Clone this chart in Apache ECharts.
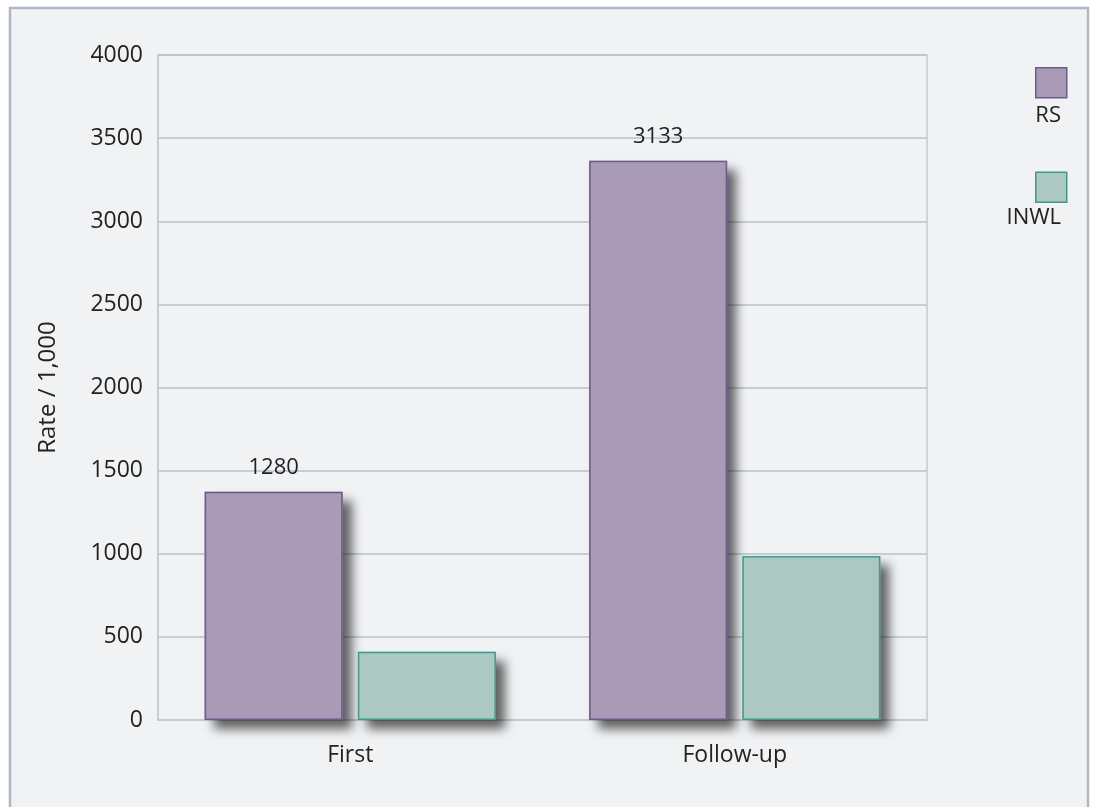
<!DOCTYPE html>
<html>
<head>
<meta charset="utf-8">
<script src="https://cdn.jsdelivr.net/npm/echarts@6/dist/echarts.min.js"></script>
<style>
html,body{margin:0;padding:0;background:#ffffff;}
#chart{width:1096px;height:807px;}
</style>
</head>
<body>
<div id="chart"></div>
<script>
var categories = ['First', 'Follow-up'];
var seriesNames = ['RS', 'INWL'];
var rsValues = [1373, 3364];
var inwlValues = [411, 986];
var rsLabels = ['1280', '3133'];
var yTicks = { min: 0, max: 4000, interval: 500 };

var FONT = '"Open Sans", "Noto Sans", sans-serif';
var chart = echarts.init(document.getElementById('chart'), null, { renderer: 'canvas' });

var shadow = { shadowBlur: 10, shadowOffsetX: 9, shadowOffsetY: 9, shadowColor: 'rgba(0,0,0,0.6)' };

var option = {
  animation: false,
  backgroundColor: '#ffffff',
  graphic: [
    { type: 'rect', z: -100, silent: true,
      shape: { x: 10, y: 8, width: 1078, height: 830 },
      style: { fill: '#f1f2f4', stroke: '#aeb8c4', lineWidth: 2.5 } },
    { type: 'text', silent: true,
      style: { x: 1061, y: 116, text: seriesNames[0], fill: '#222222', font: '22px ' + FONT, textAlign: 'right', textVerticalAlign: 'middle' } },
    { type: 'text', silent: true,
      style: { x: 1061, y: 218, text: seriesNames[1], fill: '#222222', font: '22px ' + FONT, textAlign: 'right', textVerticalAlign: 'middle' } }
  ],
  legend: {
    orient: 'vertical',
    left: 1030,
    top: 62,
    itemWidth: 31,
    itemHeight: 30,
    itemGap: 73,
    icon: 'rect',
    data: seriesNames,
    formatter: function () { return ''; },
    textStyle: { fontSize: 1 },
    itemStyle: { shadowBlur: 0, shadowOffsetX: 0, shadowOffsetY: 0, shadowColor: 'transparent', borderWidth: 1.5 },
    selectedMode: false
  },
  grid: {
    left: 158, top: 55, width: 769, height: 665,
    show: true, borderColor: '#c3cad3', borderWidth: 1.5, backgroundColor: 'transparent'
  },
  xAxis: [
    {
      type: 'category',
      data: categories,
      axisLine: { show: true, lineStyle: { color: '#c3cad3', width: 1.5 } },
      axisTick: { show: false },
      axisLabel: { color: '#222222', fontFamily: FONT, fontSize: 23, margin: 24 },
      splitLine: { show: false }
    },
    {
      type: 'category',
      data: categories,
      position: 'bottom',
      show: false
    }
  ],
  yAxis: {
    type: 'value',
    min: yTicks.min, max: yTicks.max, interval: yTicks.interval,
    name: 'Rate / 1,000',
    nameLocation: 'middle',
    nameGap: 98,
    nameTextStyle: { color: '#222222', fontFamily: FONT, fontSize: 24 },
    axisLine: { show: true, lineStyle: { color: '#c3cad3', width: 1.5 } },
    axisTick: { show: false },
    axisLabel: { color: '#222222', fontFamily: FONT, fontSize: 23, margin: 15,
      formatter: function (v) { return String(v); } },
    splitLine: { show: true, lineStyle: { color: '#b7c0cb', width: 1.5 } }
  },
  series: [
    {
      name: 'RS shadow',
      type: 'bar',
      xAxisIndex: 1,
      data: rsValues,
      barWidth: 138,
      barGap: '11%',
      z: 1,
      silent: true,
      itemStyle: Object.assign({ color: '#a99bb6', borderWidth: 0 }, shadow)
    },
    {
      name: 'INWL shadow',
      type: 'bar',
      xAxisIndex: 1,
      data: inwlValues,
      barWidth: 138,
      barGap: '11%',
      z: 1,
      silent: true,
      itemStyle: Object.assign({ color: '#adc8c3', borderWidth: 0 }, shadow)
    },
    {
      name: seriesNames[0],
      type: 'bar',
      data: rsValues,
      barWidth: 138,
      barGap: '11%',
      z: 3,
      itemStyle: { color: '#a99bb6', borderColor: '#6c5a8c', borderWidth: 1.5 },
      label: {
        show: true, position: 'top', distance: 13,
        color: '#222222', fontFamily: FONT, fontSize: 22,
        formatter: function (p) { return rsLabels[p.dataIndex]; }
      }
    },
    {
      name: seriesNames[1],
      type: 'bar',
      data: inwlValues,
      barWidth: 138,
      barGap: '11%',
      z: 3,
      itemStyle: { color: '#adc8c3', borderColor: '#3b9c8b', borderWidth: 1.5 }
    }
  ]
};
chart.setOption(option);
</script>
</body>
</html>
